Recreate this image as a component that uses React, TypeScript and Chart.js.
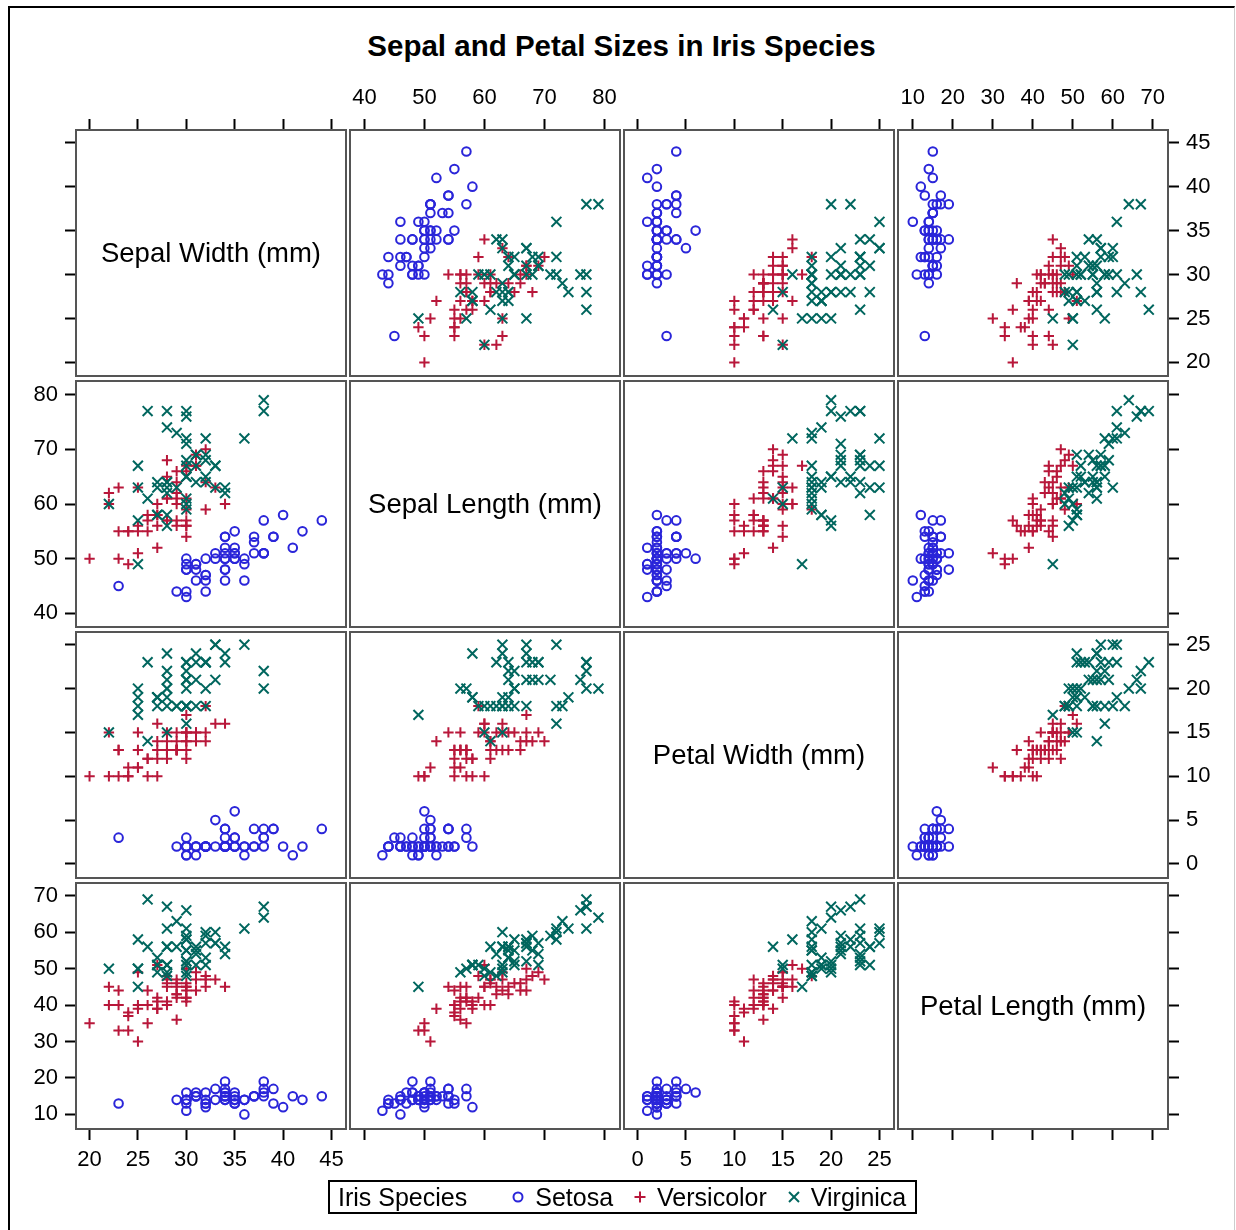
import React, { useEffect, useRef } from 'react';
import { Chart, registerables } from 'chart.js';

Chart.register(...registerables);

// ---------- data (mm) ----------
const setosaSepalLength = [51,49,47,46,50,54,46,50,44,49,54,48,48,43,58,57,54,51,57,51,54,51,46,51,48,50,50,52,52,47,48,54,52,55,49,50,55,49,44,51,50,45,44,50,51,48,51,46,53,50];
const setosaSepalWidth = [35,30,32,31,36,39,34,34,29,31,37,34,30,30,40,44,39,35,38,38,34,37,36,33,34,30,34,35,34,32,31,34,41,42,31,32,35,36,30,34,35,23,32,35,38,30,38,32,37,33];
const setosaPetalLength = [14,14,13,15,14,17,14,15,14,15,15,16,14,11,12,15,13,14,17,15,17,15,10,17,19,16,16,15,14,16,16,15,15,14,15,12,13,14,13,15,13,13,13,16,19,14,16,14,15,14];
const setosaPetalWidth = [2,2,2,2,2,4,3,2,2,1,2,2,1,1,2,4,4,3,3,3,2,4,2,5,2,2,4,2,2,2,2,4,1,2,2,2,2,1,2,2,3,3,2,6,4,3,2,2,2,2];

const versicolorSepalLength = [70,64,69,55,65,57,63,49,66,52,50,59,60,61,56,67,56,58,62,56,59,61,63,61,64,66,68,67,60,57,55,55,58,60,54,60,67,63,56,55,55,61,58,50,56,57,57,62,51,57];
const versicolorSepalWidth = [32,32,31,23,28,28,33,24,29,27,20,30,22,29,29,31,30,27,22,25,32,28,25,28,29,30,28,30,29,26,24,24,27,27,30,34,31,23,30,25,26,30,26,23,27,30,29,29,25,28];
const versicolorPetalLength = [47,45,49,40,46,45,47,33,46,39,35,42,40,47,36,44,45,41,45,39,48,40,49,47,43,44,48,50,45,35,38,37,39,51,45,45,47,44,41,40,44,46,40,33,42,42,42,43,30,41];
const versicolorPetalWidth = [14,15,15,13,15,13,16,10,13,14,10,15,10,14,13,14,15,10,15,11,18,13,15,12,13,14,14,17,15,10,11,10,12,16,15,16,15,13,13,13,12,14,12,10,13,12,13,13,11,13];

const virginicaSepalLength = [63,58,71,63,65,76,49,73,67,72,65,64,68,57,58,64,65,77,77,60,69,56,77,63,67,72,62,61,64,72,74,79,64,63,61,77,63,64,60,69,67,69,58,68,67,67,63,65,62,59];
const virginicaSepalWidth = [33,27,30,29,30,30,25,29,25,36,32,27,30,25,28,32,30,38,26,22,32,28,28,27,33,32,28,30,28,30,28,38,28,28,26,30,34,31,30,31,31,31,27,32,33,30,25,30,34,30];
const virginicaPetalLength = [60,51,59,56,58,66,45,63,58,61,51,53,55,50,51,53,55,67,69,50,57,49,67,49,57,60,48,49,56,58,61,64,56,51,56,61,56,55,48,54,56,51,51,59,57,52,50,52,54,51];
const virginicaPetalWidth = [25,19,21,18,22,21,17,18,18,25,20,19,21,20,24,23,18,22,23,15,23,20,20,18,21,18,18,18,21,16,19,20,22,15,14,23,24,18,18,21,24,23,19,23,25,23,19,20,23,18];

// matrix variable order
const variableLabels = ['Sepal Width (mm)', 'Sepal Length (mm)', 'Petal Width (mm)', 'Petal Length (mm)'];
const sepalWidthTicks = [20, 25, 30, 35, 40, 45];
const sepalLengthTicks = [40, 50, 60, 70, 80];
const petalWidthTicks = [0, 5, 10, 15, 20, 25];
const petalLengthTicks = [10, 20, 30, 40, 50, 60, 70];
const speciesNames = ['Setosa', 'Versicolor', 'Virginica'];
const titleText = 'Sepal and Petal Sizes in Iris Species';
const legendTitle = 'Iris Species';

const TICKS = [sepalWidthTicks, sepalLengthTicks, petalWidthTicks, petalLengthTicks];
const XRANGE: [number, number][] = [[18.6, 46.5], [37.6, 82.6], [-1.4, 26.5], [6.3, 73.8]];
const YRANGE: [number, number][] = [[18.45, 46.45], [37.5, 82.5], [-1.6, 26.45], [6.0, 73.5]];

const SPECIES = [
  { name: speciesNames[0], color: '#2A25D9', style: 'circle', radius: 4.3, bw: 2,
    vars: [setosaSepalWidth, setosaSepalLength, setosaPetalWidth, setosaPetalLength] },
  { name: speciesNames[1], color: '#B8173A', style: 'cross', radius: 5.2, bw: 2,
    vars: [versicolorSepalWidth, versicolorSepalLength, versicolorPetalWidth, versicolorPetalLength] },
  { name: speciesNames[2], color: '#01665E', style: 'crossRot', radius: 7, bw: 2,
    vars: [virginicaSepalWidth, virginicaSepalLength, virginicaPetalWidth, virginicaPetalLength] },
];

const FONT = "'Liberation Sans', Arial, Helvetica, sans-serif";
const PX = [76, 350, 624, 898];
const PY = [130, 381, 632, 883];
const PW_ = 270;
const PH_ = 246;
const M = 60;

function Panel({ row, col }: { row: number; col: number }) {
  const ref = useRef<HTMLCanvasElement>(null);
  useEffect(() => {
    const canvas = ref.current;
    if (!canvas) return;
    const datasets = row === col ? [] : SPECIES.map((s, si) => ({
      label: s.name,
      data: s.vars[col].map((x, k) => ({ x, y: s.vars[row][k] })),
      pointStyle: s.style,
      pointRadius: s.radius,
      pointBorderWidth: s.bw,
      borderWidth: s.bw,
      borderColor: s.color,
      pointBorderColor: s.color,
      backgroundColor: 'rgba(0,0,0,0)',
      pointBackgroundColor: 'rgba(0,0,0,0)',
      showLine: false,
      order: 3 - si,
    }));
    const mk = (axis: 'x' | 'y', pos: string, showTicks: boolean, showLabels: boolean, vals: number[], range: [number, number]) => ({
      type: 'linear',
      axis,
      position: pos,
      min: range[0],
      max: range[1],
      afterFit: (sc: any) => { if (axis === 'x') sc.height = M; else sc.width = M; },
      afterBuildTicks: (sc: any) => { sc.ticks = vals.map((v) => ({ value: v })); },
      grid: { display: showTicks, drawOnChartArea: false, drawTicks: showTicks, tickLength: 11, tickWidth: 2, tickColor: '#000' },
      border: { display: true, color: '#555', width: 2 },
      ticks: {
        display: showLabels, color: '#000', font: { family: FONT, size: 22 },
        padding: pos === 'top' ? 8 : 7, maxRotation: 0, autoSkip: false,
      },
    });
    const xr = XRANGE[col], yr = YRANGE[row];
    const xt = TICKS[col], yt = TICKS[row];
    const chart = new Chart(canvas, {
      type: 'scatter',
      data: { datasets } as any,
      options: {
        animation: false,
        responsive: false,
        events: [],
        layout: { padding: 0 },
        plugins: { legend: { display: false }, tooltip: { enabled: false }, title: { display: false } },
        scales: {
          x: mk('x', 'bottom', row === 3, row === 3 && col % 2 === 0, xt, xr),
          x2: mk('x', 'top', row === 0, row === 0 && col % 2 === 1, xt, xr),
          y: mk('y', 'left', col === 0, col === 0 && row % 2 === 1, yt, yr),
          y2: mk('y', 'right', col === 3, col === 3 && row % 2 === 0, yt, yr),
        } as any,
      } as any,
    });
    return () => chart.destroy();
  }, [row, col]);
  return (
    <canvas
      ref={ref}
      width={PW_ + 2 * M}
      height={PH_ + 2 * M}
      style={{ position: 'absolute', left: PX[col] - M, top: PY[row] - M, width: PW_ + 2 * M, height: PH_ + 2 * M }}
    />
  );
}

function LegendMark({ kind, color }: { kind: string; color: string }) {
  return (
    <svg width={16} height={16} viewBox="0 0 16 16" style={{ display: 'block' }}>
      {kind === 'circle' && <circle cx={8} cy={8} r={4.5} fill="none" stroke={color} strokeWidth={2} />}
      {kind === 'cross' && (<g stroke={color} strokeWidth={2}><line x1={2.5} y1={8} x2={13.5} y2={8} /><line x1={8} y1={2.5} x2={8} y2={13.5} /></g>)}
      {kind === 'crossRot' && (<g stroke={color} strokeWidth={2}><line x1={3} y1={3} x2={13} y2={13} /><line x1={13} y1={3} x2={3} y2={13} /></g>)}
    </svg>
  );
}

export default function App() {
  useEffect(() => {
    document.documentElement.style.overflow = 'hidden';
    document.body.style.overflow = 'hidden';
  }, []);
  const panels = [];
  for (let r = 0; r < 4; r++) for (let c = 0; c < 4; c++) panels.push(<Panel key={`${r}-${c}`} row={r} col={c} />);
  return (
    <div style={{ position: 'absolute', left: 0, top: 0, width: 1236, height: 1230, overflow: 'hidden', fontFamily: FONT, background: '#fff' }}>
      <div style={{ position: 'absolute', left: 8, top: 6, width: 1227, height: 1240, boxSizing: 'border-box', borderTop: '2px solid #000', borderLeft: '2px solid #000', borderRight: '1px solid #ccc' }} />
      <div style={{ position: 'absolute', left: 8, top: 28, width: 1227, textAlign: 'center', fontWeight: 'bold', fontSize: 29.5, lineHeight: '36px', color: '#000' }}>{titleText}</div>
      {panels}
      {[0, 1, 2, 3].map((i) => (
        <div key={'lab' + i} style={{ position: 'absolute', left: PX[i], top: PY[i], width: PW_, height: PH_, display: 'flex', alignItems: 'center', justifyContent: 'center', fontSize: 27.5, color: '#000', pointerEvents: 'none' }}>
          {variableLabels[i]}
        </div>
      ))}
      <div style={{ position: 'absolute', left: 328, top: 1180, width: 589, height: 34, boxSizing: 'border-box', border: '2px solid #000', display: 'flex', alignItems: 'center', paddingLeft: 8, fontSize: 25, color: '#000', whiteSpace: 'nowrap' }}>
        <span style={{ marginRight: 43 }}>{legendTitle}</span>
        {SPECIES.map((s) => (
          <span key={s.name} style={{ display: 'flex', alignItems: 'center', marginRight: 19 }}>
            <LegendMark kind={s.style} color={s.color} />
            <span style={{ marginLeft: 9 }}>{s.name}</span>
          </span>
        ))}
      </div>
    </div>
  );
}
